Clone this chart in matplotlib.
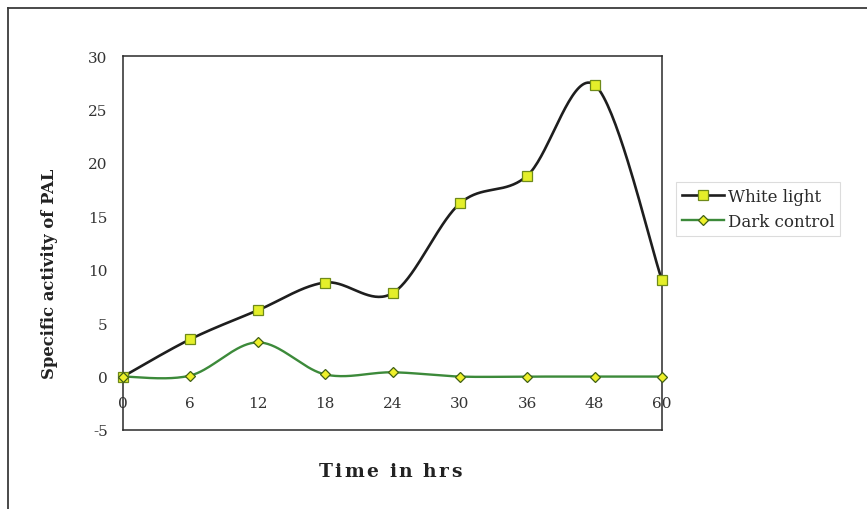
import numpy as np
import matplotlib
matplotlib.use("Agg")
import matplotlib.pyplot as plt
from matplotlib.lines import Line2D
from matplotlib import font_manager
from matplotlib.ft2font import FT2Font

# Sampling times (hours) shown as evenly spaced categories
times = ["0", "6", "12", "18", "24", "30", "36", "48", "60"]
white_light = [0.0, 3.5, 6.2, 8.8, 7.8, 16.2, 18.8, 27.3, 9.0]
dark_control = [0.0, 0.1, 3.2, 0.2, 0.4, 0.0, 0.0, 0.0, 0.0]

y_ticks = [-5, 0, 5, 10, 15, 20, 25, 30]

plt.rcParams["font.family"] = ["DejaVu Serif"]


def smooth_curve(xs, ys, steps=40):
    """Cubic Bezier smoothing through every point (Catmull-Rom style)."""
    p = np.column_stack([xs, ys]).astype(float)
    n = len(p)
    out = [p[0]]
    t = np.linspace(0, 1, steps)[1:, None]
    for i in range(n - 1):
        p_prev = p[i - 1] if i > 0 else p[i]
        p_next2 = p[i + 2] if i + 2 < n else p[i + 1]
        c1 = p[i] + (p[i + 1] - p_prev) / 6.0
        c2 = p[i + 1] - (p_next2 - p[i]) / 6.0
        seg = ((1 - t) ** 3) * p[i] + 3 * ((1 - t) ** 2) * t * c1 \
            + 3 * (1 - t) * t ** 2 * c2 + t ** 3 * p[i + 1]
        out.extend(seg)
    out = np.array(out)
    return out[:, 0], out[:, 1]


W, H = 867, 510
DPI = 100
fig = plt.figure(figsize=(W / DPI, H / DPI), dpi=DPI)
fig.patch.set_facecolor("white")

# Outer chart frame (only left and top edges fall inside the canvas)
fig.add_artist(Line2D([8 / W, 8 / W], [0, 1 - 9 / H], transform=fig.transFigure,
                      color="#3a3a3a", lw=1.3))
fig.add_artist(Line2D([8 / W, 1], [1 - 9 / H, 1 - 9 / H], transform=fig.transFigure,
                      color="#3a3a3a", lw=1.3))

left, right, top, bottom = 123, 662, 57, 431
ax = fig.add_axes([left / W, 1 - bottom / H, (right - left) / W, (bottom - top) / H])

x = np.arange(len(times))

# White light series
sx, sy = smooth_curve(x, white_light)
ax.plot(sx, sy, color="#1e1e1e", lw=1.9, solid_capstyle="round", zorder=3)
ax.plot(x, white_light, ls="none", marker="s", ms=7.5, mfc="#e4ef2a",
        mec="#6f8a1a", mew=0.9, zorder=5, clip_on=False)

# Dark control series
dx, dy = smooth_curve(x, dark_control)
ax.plot(dx, dy, color="#3c8a3a", lw=1.7, zorder=3)
ax.plot(x, dark_control, ls="none", marker="D", ms=5.5, mfc="#eef02a",
        mec="#3f5f14", mew=0.9, zorder=5, clip_on=False)

ax.set_xlim(0, len(times) - 1)
ax.set_ylim(-5, 30)
ax.set_yticks(y_ticks)
ax.set_yticklabels([str(v) for v in y_ticks])
ax.set_xticks(x)
ax.set_xticklabels(times)

ax.tick_params(axis="y", length=0, pad=11, labelsize=11, labelcolor="#333333")
ax.tick_params(axis="x", length=0, pad=-24.5, labelsize=11, labelcolor="#333333")

for s in ax.spines.values():
    s.set_color("#2a2a2a")
    s.set_linewidth(1.1)

# Vertical axis title
fig.text(50 / W, 1 - 274 / H, "Specific activity of PAL", rotation=90,
         ha="center", va="center", fontsize=11.8, fontweight="bold", color="#222222")

# Letter-spaced horizontal axis title, laid out from glyph advances
title = "Time in hrs"
title_size = 13.5
fp = font_manager.FontProperties(family="DejaVu Serif", weight="bold")
ft = FT2Font(font_manager.findfont(fp))
ft.set_size(title_size, DPI)
advances = []
for ch in title:
    g = ft.load_char(ord(ch))
    advances.append(g.linearHoriAdvance / 65536.0)
spacing = 2.2
total = sum(advances) + spacing * (len(title) - 1)
cx = 390 - total / 2
for ch, adv in zip(title, advances):
    if ch != " ":
        fig.text(cx / W, 1 - 472 / H, ch, fontproperties=fp, fontsize=title_size,
                 color="#222222", ha="left", va="center")
    cx += adv + spacing

# Legend
handles = [
    Line2D([], [], color="#1e1e1e", lw=1.9, marker="s", ms=7.5, mfc="#e4ef2a",
           mec="#6f8a1a", mew=0.9),
    Line2D([], [], color="#3c8a3a", lw=1.7, marker="D", ms=5.5, mfc="#eef02a",
           mec="#3f5f14", mew=0.9),
]
leg = fig.legend(handles, ["White light", "Dark control"],
                 loc="upper left", bbox_to_anchor=(676 / W, 1 - 183 / H),
                 frameon=True, fancybox=False, fontsize=12, numpoints=1,
                 handlelength=2.5, handletextpad=0.25, borderpad=0.35,
                 labelspacing=0.5, borderaxespad=0)
leg.get_frame().set_edgecolor("#d4d4d4")
leg.get_frame().set_linewidth(0.8)
for txt in leg.get_texts():
    txt.set_color("#2a2a2a")

fig.savefig("out.png", dpi=DPI, facecolor="white")
